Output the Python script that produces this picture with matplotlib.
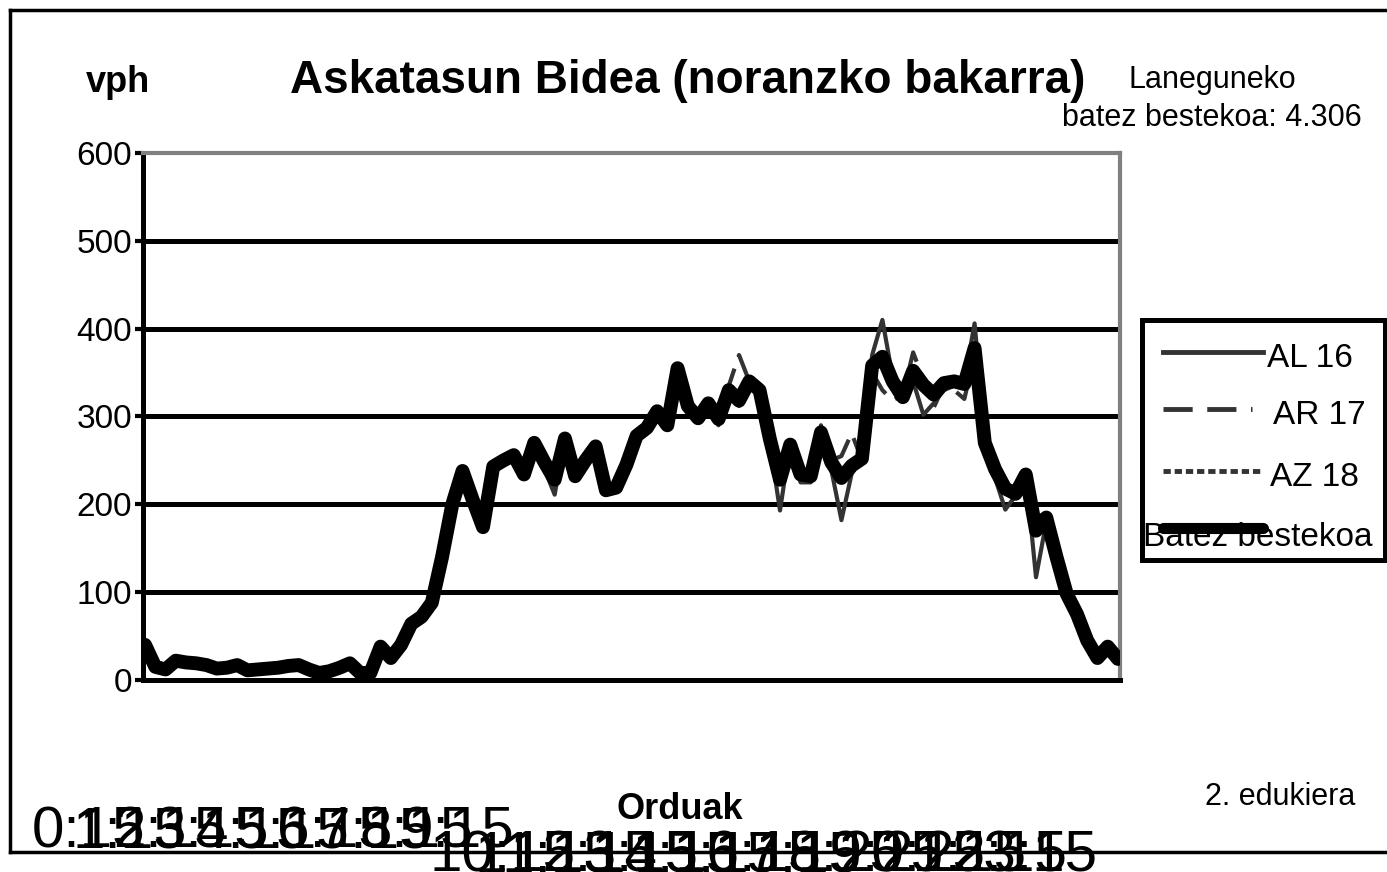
import matplotlib
matplotlib.use("Agg")
import matplotlib.pyplot as plt
import matplotlib.transforms as mtransforms
from matplotlib.lines import Line2D
from matplotlib.patches import Rectangle

plt.rcParams['font.family'] = ['Liberation Sans', 'DejaVu Sans']

# 15 minutuko tarteak (96 puntu)
batez_bestekoa = [
    40, 15, 12, 22, 20, 19, 17, 13, 14, 17, 11, 12,
    13, 14, 16, 17, 12, 8, 10, 14, 19, 8, 8, 38,
    25, 40, 64, 72, 88, 140, 200, 238, 205, 174, 243, 250,
    256, 234, 270, 248, 228, 275, 232, 250, 266, 216, 219, 245,
    278, 287, 306, 290, 355, 312, 298, 315, 297, 330, 318, 340,
    330, 275, 228, 268, 234, 232, 282, 248, 230, 244, 252, 358,
    368, 340, 322, 352, 336, 325, 338, 340, 337, 378, 270, 240,
    218, 212, 234, 170, 185, 140, 98, 75, 45, 25, 38, 24,
]
al16 = [
    38, 14, 10, 25, 18, 20, 15, 12, 12, 15, 10, 12,
    12, 13, 15, 16, 12, 8, 9, 12, 18, 8, 7, 35,
    22, 38, 60, 70, 80, 135, 195, 235, 210, 178, 240, 255,
    258, 230, 268, 240, 211, 280, 228, 248, 262, 215, 222, 240,
    280, 288, 300, 292, 352, 305, 300, 310, 290, 325, 312, 345,
    332, 270, 193, 270, 225, 225, 290, 240, 182, 235, 252, 370,
    410, 345, 320, 340, 302, 315, 330, 335, 340, 406, 280, 230,
    194, 210, 235, 117, 180, 150, 98, 70, 35, 25, 35, 22,
]
ar17 = [
    42, 16, 14, 20, 22, 18, 18, 14, 15, 18, 12, 12,
    14, 15, 17, 18, 13, 9, 11, 15, 20, 9, 9, 36,
    27, 42, 66, 74, 90, 145, 205, 240, 200, 170, 245, 248,
    255, 238, 272, 252, 232, 270, 230, 255, 270, 220, 218, 250,
    275, 285, 310, 288, 350, 318, 295, 320, 300, 335, 370, 340,
    328, 278, 235, 265, 240, 238, 280, 250, 255, 281, 250, 350,
    330, 318, 325, 373, 342, 310, 335, 330, 320, 370, 265, 245,
    225, 215, 232, 185, 190, 135, 100, 80, 50, 28, 40, 25,
]
az18 = [
    40, 14, 12, 22, 20, 18, 17, 12, 15, 17, 10, 12,
    13, 14, 15, 17, 11, 8, 10, 15, 18, 8, 8, 40,
    25, 40, 62, 72, 92, 142, 200, 238, 200, 172, 244, 252,
    254, 236, 270, 250, 230, 274, 232, 252, 268, 215, 218, 246,
    278, 288, 305, 292, 356, 310, 298, 312, 298, 330, 315, 338,
    330, 276, 232, 266, 236, 234, 282, 248, 240, 244, 250, 352,
    362, 338, 324, 350, 335, 326, 336, 338, 340, 372, 272, 245,
    222, 212, 234, 172, 188, 140, 95, 78, 48, 26, 38, 24,
]

goiko_etiketak = ["0:15", "1:15", "2:15", "3:15", "4:15", "5:15", "6:15", "7:15", "8:15", "9:15"]
goiko_pos = [0, 4, 8, 12, 16, 20, 24, 28, 32, 36]
beheko_etiketak = ["10:15", "11:15", "12:15", "13:15", "14:15", "15:15", "16:15",
                   "17:15", "18:15", "19:15", "20:15", "21:15", "22:15", "23:15"]
beheko_pos = [42, 46, 50, 54, 58, 62, 66, 70, 74, 78, 82, 86, 90, 93]
y_ticks = [0, 100, 200, 300, 400, 500, 600]

W, H = 1387, 872
fig = plt.figure(figsize=(W / 100, H / 100), dpi=100)


def fx(px):
    return px / W


def fy(py):
    return 1 - py / H


ax = fig.add_axes([fx(143), fy(680), fx(1120) - fx(143), fy(153) - fy(680)])

x = list(range(len(batez_bestekoa)))
gris = '#333333'
ax.plot(x, al16, color=gris, lw=3, solid_joinstyle='round', zorder=3)
ax.plot(x, ar17, color=gris, lw=3, dashes=(6, 3), zorder=3)
ax.plot(x, az18, color=gris, lw=3, dashes=(1.5, 0.8), zorder=3)
ax.plot(x, batez_bestekoa, color='black', lw=10, solid_joinstyle='round',
        solid_capstyle='round', zorder=4)

ax.set_xlim(-0.2, 95.2)
ax.set_ylim(0, 600)
ax.set_yticks(y_ticks)
ax.set_yticklabels([str(v) for v in y_ticks], fontsize=24)
ax.set_xticks([])
for v in y_ticks[1:-1]:
    ax.axhline(v, color='black', lw=3.6, zorder=1)
ax.tick_params(axis='y', length=6, width=3, pad=2, color='black')

for s in ['top', 'right']:
    ax.spines[s].set_color('#808080')
    ax.spines[s].set_linewidth(3)
ax.spines['left'].set_linewidth(3.6)
ax.spines['bottom'].set_linewidth(3.6)

# ordu etiketak (bata bestearen gainean, jatorrizkoan bezala)
trans = mtransforms.blended_transform_factory(ax.transData, fig.transFigure)
for p, lab in zip(goiko_pos, goiko_etiketak):
    ax.text(p, fy(847), lab, transform=trans, ha='right', va='baseline',
            fontsize=42, clip_on=False)
for p, lab in zip(beheko_pos, beheko_etiketak):
    ax.text(p, fy(871), lab, transform=trans, ha='right', va='baseline',
            fontsize=42, clip_on=False)

# testuak
fig.text(fx(688), fy(81), "Askatasun Bidea (noranzko bakarra)", fontsize=33,
         fontweight='bold', ha='center', va='center')
fig.text(fx(118), fy(82), "vph", fontsize=26, fontweight='bold', ha='center', va='center')
fig.text(fx(1212), fy(99), "Laneguneko\nbatez bestekoa: 4.306", fontsize=22,
         ha='center', va='center', linespacing=1.35)
fig.text(fx(1280), fy(797), "2. edukiera", fontsize=22, ha='center', va='center')
fig.text(fx(680), fy(809), "Orduak", fontsize=26, fontweight='bold', ha='center', va='center')

# kanpoko markoa
for xs, ys in [((10, W), (10, 10)), ((10, 10), (10, 852)), ((10, W), (852, 852))]:
    fig.add_artist(Line2D([fx(xs[0]), fx(xs[1])], [fy(ys[0]), fy(ys[1])],
                          color='black', lw=2.5, transform=fig.transFigure))

# legenda
fig.add_artist(Rectangle((fx(1142), fy(560)), fx(1385) - fx(1142), fy(320) - fy(560),
                         fill=False, edgecolor='black', lw=3.6, transform=fig.transFigure))
leg = [
    ("AL 16", dict(color=gris, lw=3.5), 352, 1267),
    ("AR 17", dict(color=gris, lw=3.5, dashes=(6, 3)), 409, 1273),
    ("AZ 18", dict(color=gris, lw=3.5, dashes=(1.5, 0.8)), 471, 1270),
    ("Batez bestekoa", dict(color='black', lw=8, solid_capstyle='round'), 528, 1143),
]
for lab, st, ly, tx in leg:
    x1 = 1263 if lab != "AR 17" else 1252
    fig.add_artist(Line2D([fx(1163), fx(x1)], [fy(ly), fy(ly)],
                          transform=fig.transFigure, zorder=5, **st))
    fig.text(fx(tx), fy(ly + 6 if lab != "Batez bestekoa" else ly + 9), lab,
             fontsize=24, ha='left', va='center', zorder=4)

fig.savefig("out.png", dpi=100)
